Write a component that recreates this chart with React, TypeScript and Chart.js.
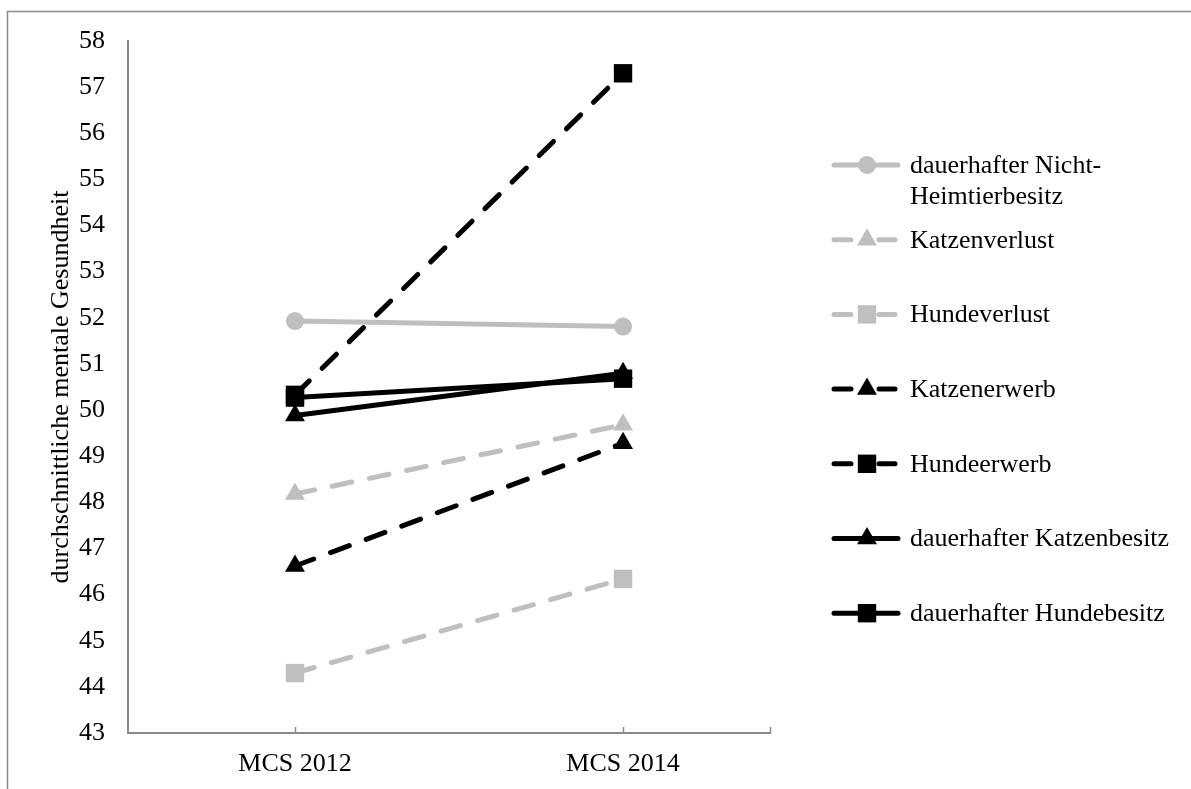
import { useEffect, useRef } from 'react';
import { Chart, registerables } from 'chart.js';

Chart.register(...registerables);

// ---- data ----
const categories = ['MCS 2012', 'MCS 2014'];
const seriesNames = [
  'dauerhafter Nicht-Heimtierbesitz',
  'Katzenverlust',
  'Hundeverlust',
  'Katzenerwerb',
  'Hundeerwerb',
  'dauerhafter Katzenbesitz',
  'dauerhafter Hundebesitz',
];
const nichtHeimtierbesitz = [51.93, 51.81];
const katzenverlust = [48.18, 49.68];
const hundeverlust = [44.3, 46.34];
const katzenerwerb = [46.62, 49.28];
const hundeerwerb = [50.33, 57.3];
const katzenbesitz = [49.88, 50.8];
const hundebesitz = [50.27, 50.68];
const seriesValues = [nichtHeimtierbesitz, katzenverlust, hundeverlust, katzenerwerb, hundeerwerb, katzenbesitz, hundebesitz];
const yMin = 43;
const yMax = 58;
const yStep = 1;
const yTitle = 'durchschnittliche mentale Gesundheit';

// ---- styles ----
const GRAY = '#BFBFBF';
const BLACK = '#000000';
const AXIS = '#898989';
const FONT = "'Liberation Serif', 'Times New Roman', serif";
const FS = 26;
const styles = [
  { color: GRAY, dashed: false, point: 'circle', r: 9 },
  { color: GRAY, dashed: true, point: 'triangle', r: 11.5 },
  { color: GRAY, dashed: true, point: 'rect', r: 13 },
  { color: BLACK, dashed: true, point: 'triangle', r: 11.5 },
  { color: BLACK, dashed: true, point: 'rect', r: 13 },
  { color: BLACK, dashed: false, point: 'triangle', r: 11.5 },
  { color: BLACK, dashed: false, point: 'rect', r: 13 },
];

const decorPlugin = {
  id: 'decor',
  afterDraw(chart: any) {
    const ctx = chart.ctx as CanvasRenderingContext2D;
    const area = chart.chartArea;
    const xs = chart.scales.x;
    ctx.save();
    // outer frame
    ctx.strokeStyle = '#8a8a8a';
    ctx.lineWidth = 1.5;
    ctx.beginPath();
    ctx.moveTo(7.5, 1000);
    ctx.lineTo(7.5, 11.5);
    ctx.lineTo(1300, 11.5);
    ctx.stroke();

    // x tick marks (inside)
    ctx.strokeStyle = AXIS;
    ctx.lineWidth = 1.5;
    const tickXs = [...categories.map((_, i) => xs.getPixelForValue(i)), area.right];
    tickXs.forEach((px) => {
      ctx.beginPath();
      ctx.moveTo(Math.round(px) + 0.5, area.bottom);
      ctx.lineTo(Math.round(px) + 0.5, area.bottom - 6);
      ctx.stroke();
    });

    // y title
    ctx.fillStyle = '#000';
    ctx.font = `${FS}px ${FONT}`;
    ctx.textAlign = 'center';
    ctx.textBaseline = 'alphabetic';
    ctx.save();
    ctx.translate(68, (area.top + area.bottom) / 2);
    ctx.rotate(-Math.PI / 2);
    ctx.fillText(yTitle, 0, 0);
    ctx.restore();

    // legend
    const lx0 = 834;
    const lx1 = 898;
    const lmid = 867;
    const tx = 910;
    const top = 165;
    const step = 74.7;
    const maxW = 1191 - tx - 10;
    chart.data.datasets.forEach((ds: any, i: number) => {
      const st = styles[i];
      const y = top + i * step;
      ctx.strokeStyle = st.color;
      ctx.fillStyle = st.color;
      ctx.lineWidth = 5;
      ctx.lineCap = 'round';
      ctx.setLineDash([]);
      ctx.beginPath();
      if (st.dashed) {
        ctx.moveTo(lx0, y);
        ctx.lineTo(lx0 + 17, y);
        ctx.moveTo(lmid + 12, y);
        ctx.lineTo(lx1 - 3, y);
      } else {
        ctx.moveTo(lx0, y);
        ctx.lineTo(lx1, y);
      }
      ctx.stroke();
      // marker
      const r = st.r;
      ctx.beginPath();
      if (st.point === 'circle') {
        ctx.arc(lmid, y, r, 0, Math.PI * 2);
      } else if (st.point === 'rect') {
        const s = Math.SQRT1_2 * r;
        ctx.rect(lmid - s, y - s, 2 * s, 2 * s);
      } else {
        ctx.moveTo(lmid, y - r);
        ctx.lineTo(lmid + (r * Math.sqrt(3)) / 2, y + r / 2);
        ctx.lineTo(lmid - (r * Math.sqrt(3)) / 2, y + r / 2);
        ctx.closePath();
      }
      ctx.fill();
      // text
      ctx.fillStyle = '#000';
      ctx.font = `${FS}px ${FONT}`;
      ctx.textAlign = 'left';
      ctx.textBaseline = 'middle';
      const label: string = ds.label;
      const lines: string[] = [];
      if (ctx.measureText(label).width > maxW && label.includes('-')) {
        const k = label.indexOf('-') + 1;
        lines.push(label.slice(0, k), label.slice(k));
      } else {
        lines.push(label);
      }
      lines.forEach((ln, j) => ctx.fillText(ln, tx, y + 1 + j * 31));
    });
    ctx.restore();
  },
};

export default function App() {
  const ref = useRef<HTMLCanvasElement | null>(null);
  useEffect(() => {
    if (!ref.current) return;
    const n = seriesNames.length;
    const chart = new Chart(ref.current, {
      type: 'line',
      data: {
        datasets: seriesNames.map((name, i) => {
          const st = styles[i];
          return {
            label: name,
            data: categories.map((_, j) => ({ x: j, y: seriesValues[i][j] })),
            borderColor: st.color,
            backgroundColor: st.color,
            borderWidth: 5,
            borderDash: st.dashed ? [20, 18] : [],
            borderCapStyle: 'round',
            borderJoinStyle: 'round',
            tension: 0,
            pointStyle: st.point,
            pointRadius: st.r,
            pointBackgroundColor: st.color,
            pointBorderColor: st.color,
            pointBorderWidth: 0,
            order: n - i,
            fill: false,
          } as any;
        }),
      },
      options: {
        responsive: false,
        animation: false,
        devicePixelRatio: 1,
        layout: { padding: { top: 41, right: 421, left: 0, bottom: 0 } },
        plugins: { legend: { display: false }, tooltip: { enabled: false } },
        scales: {
          x: {
            type: 'linear',
            min: -0.509,
            max: 1.448,
            afterBuildTicks: (s: any) => {
              s.ticks = categories.map((_, i) => ({ value: i }));
            },
            afterFit: (s: any) => {
              s.height = 56;
            },
            grid: { display: false, drawTicks: false },
            border: { display: true, color: AXIS, width: 2 },
            ticks: {
              color: '#000',
              font: { family: FONT, size: FS },
              padding: 16,
              maxRotation: 0,
              callback: (v: any) => categories[Number(v)] ?? '',
            },
          },
          y: {
            type: 'linear',
            min: yMin,
            max: yMax,
            afterFit: (s: any) => {
              s.width = 128;
            },
            grid: { display: false, drawTicks: false },
            border: { display: true, color: AXIS, width: 2 },
            ticks: {
              stepSize: yStep,
              color: '#000',
              font: { family: FONT, size: FS },
              padding: 23,
            },
          },
        },
      },
      plugins: [decorPlugin],
    });
    return () => chart.destroy();
  }, []);
  return (
    <div style={{ position: 'fixed', left: 0, top: 0, width: 1191, height: 789, background: '#fff' }}>
      <canvas ref={ref} width={1191} height={789} style={{ width: 1191, height: 789, display: 'block' }} />
    </div>
  );
}
